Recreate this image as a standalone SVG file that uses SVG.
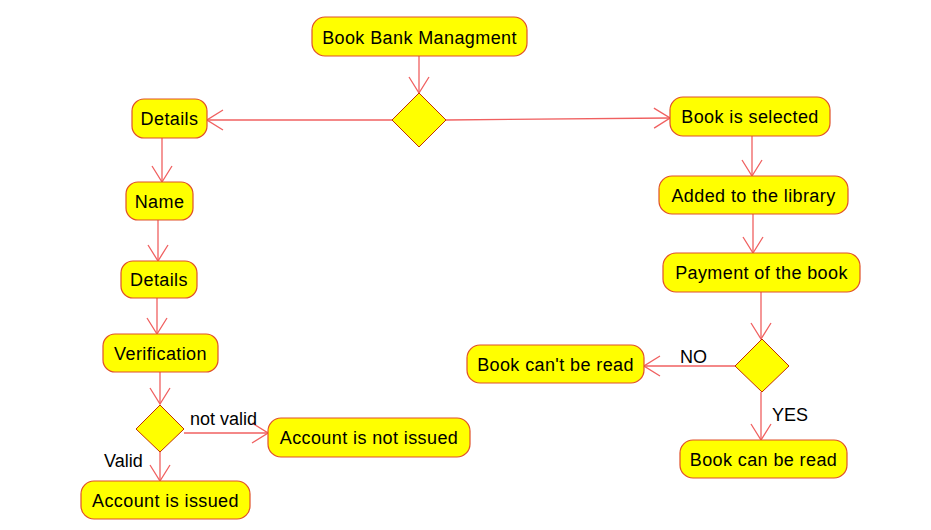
<svg xmlns="http://www.w3.org/2000/svg" width="931" height="530" viewBox="0 0 931 530">
<style>
.n rect{fill:#ffff00;stroke:#e0502a;stroke-width:1.2}
.n polygon{fill:#ffff00;stroke:#c03000;stroke-width:1}
.n text{font-family:"Liberation Sans",Arial,sans-serif;font-size:18px;letter-spacing:0.4px;fill:#000;text-anchor:middle}
.lbl{font-family:"Liberation Sans",Arial,sans-serif;font-size:18px;fill:#000}
#edges line{stroke:#f06060;stroke-width:1.3;marker-end:url(#arr)}
</style>
<defs>
<marker id="arr" markerUnits="userSpaceOnUse" markerWidth="18" markerHeight="22" viewBox="-1 -1 18 22" refX="16" refY="10" orient="auto">
<path d="M0,0 L16,10 L0,20" fill="none" stroke="#f06060" stroke-width="1.3"/>
</marker>
</defs>
<rect width="931" height="530" fill="#fff"/>
<g id="edges">
<line x1="419" y1="56" x2="419" y2="93"/>
<line x1="392" y1="120" x2="207" y2="120"/>
<line x1="446" y1="120" x2="670" y2="118"/>
<line x1="162" y1="138" x2="162" y2="182"/>
<line x1="158" y1="220" x2="158" y2="261"/>
<line x1="157" y1="298" x2="157" y2="334"/>
<line x1="160" y1="372" x2="160" y2="404"/>
<line x1="160" y1="452" x2="160" y2="481"/>
<line x1="184" y1="433" x2="268" y2="433"/>
<line x1="752" y1="136" x2="752" y2="176"/>
<line x1="753" y1="214" x2="753" y2="253"/>
<line x1="761" y1="292" x2="761" y2="339"/>
<line x1="735" y1="366" x2="644" y2="366"/>
<line x1="761" y1="392" x2="761" y2="440"/>
</g>
<g id="n_top" class="n"><rect x="312" y="17" width="215" height="39" rx="13"/><text x="419.5" y="43.5">Book Bank Managment</text></g>
<g id="d1" class="n"><polygon points="419,93 446,120 419,147 392,120"/></g>
<g id="n_details" class="n"><rect x="132" y="99" width="75" height="39" rx="12"/><text x="169.5" y="125">Details</text></g>
<g id="n_name" class="n"><rect x="126" y="182" width="67" height="38" rx="12"/><text x="159.5" y="207.5">Name</text></g>
<g id="n_details2" class="n"><rect x="121" y="261" width="76" height="37" rx="12"/><text x="159" y="286">Details</text></g>
<g id="n_verif" class="n"><rect x="103" y="334" width="115" height="38" rx="12"/><text x="160.5" y="359.5">Verification</text></g>
<g id="d2" class="n"><polygon points="160,405 184,429 160,452 136,429"/></g>
<g id="n_acc_issued" class="n"><rect x="81" y="481" width="169" height="38" rx="13"/><text x="165.5" y="506.5">Account is issued</text></g>
<g id="n_acc_not" class="n"><rect x="268" y="418" width="202" height="39" rx="13"/><text x="369" y="444">Account is not issued</text></g>
<g id="n_selected" class="n"><rect x="670" y="97" width="160" height="39" rx="13"/><text x="750" y="123">Book is selected</text></g>
<g id="n_added" class="n"><rect x="659" y="176" width="189" height="38" rx="13"/><text x="753.5" y="201.5">Added to the library</text></g>
<g id="n_payment" class="n"><rect x="663" y="253" width="197" height="39" rx="13"/><text x="761.5" y="279">Payment of the book</text></g>
<g id="d3" class="n"><polygon points="762,339 789,366 762,392 735,366"/></g>
<g id="n_cant" class="n"><rect x="467" y="345" width="177" height="38" rx="13"/><text x="555.5" y="370.5">Book can't be read</text></g>
<g id="n_can" class="n"><rect x="680" y="440" width="167" height="38" rx="13"/><text x="763.5" y="465.5">Book can be read</text></g>
<g id="labels">
<text class="lbl" x="190" y="425">not valid</text>
<text class="lbl" x="104" y="467">Valid</text>
<text class="lbl" x="680" y="363">NO</text>
<text class="lbl" x="772" y="421">YES</text>
</g>
</svg>
